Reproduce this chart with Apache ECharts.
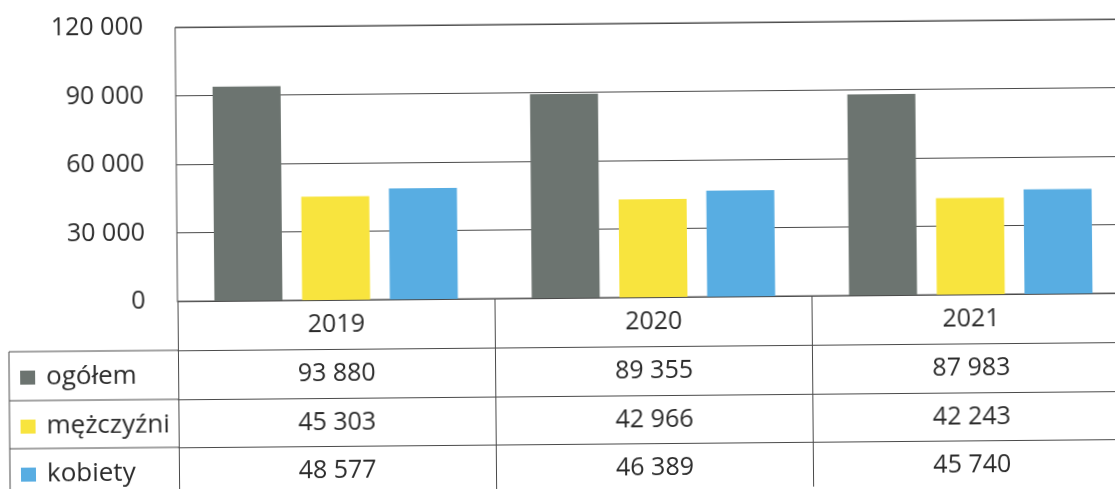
<!DOCTYPE html>
<html>
<head>
<meta charset="utf-8">
<script src="https://cdn.jsdelivr.net/npm/echarts@6/dist/echarts.min.js"></script>
<style>
  html, body { margin: 0; padding: 0; background: #fff; overflow: hidden; width: 1115px; height: 489px; }
  #chart { width: 1140px; height: 489px; transform: rotate(-0.5deg); transform-origin: 557px 244px; }
</style>
</head>
<body>
<div id="chart"></div>
<script>
var years = ['2019', '2020', '2021'];
var ogolem = [93880, 89355, 87983];
var mezczyzni = [45303, 42966, 42243];
var kobiety = [48577, 46389, 45740];
var seriesNames = ['ogółem', 'mężczyźni', 'kobiety'];
var yTicks = [0, 30000, 60000, 90000, 120000];

function fmt(n) {
  return String(n).replace(/\B(?=(\d{3})+(?!\d))/g, ' ');
}

var FONT = 'Open Sans';
var TXT = '#2b2b2b';
var LINE = '#4a4a4a';
var gridLeft = 177, gridTop = 24, gridH = 274, gridW = 952;
var baseY = gridTop + gridH;
var rowOff = [49, 98, 146];

var chart = echarts.init(document.getElementById('chart'));

function tableAxis(values, offset, tickLen) {
  return {
    type: 'category',
    position: 'bottom',
    offset: offset,
    data: values.map(fmt),
    axisLine: { show: true, lineStyle: { color: LINE, width: 1 } },
    axisTick: { show: true, length: tickLen, lineStyle: { color: LINE, width: 1 } },
    axisLabel: { fontFamily: FONT, fontSize: 25, lineHeight: 26, color: TXT, margin: 12 },
    splitLine: { show: false }
  };
}

// one legend per table row so each sits in its own cell
function rowLegend(i) {
  return {
    orient: 'vertical',
    left: 19,
    top: baseY + rowOff[i] + 12,
    padding: 0,
    itemWidth: 15,
    itemHeight: 14,
    icon: 'rect',
    data: [seriesNames[i]],
    textStyle: { fontFamily: FONT, fontSize: 26, lineHeight: 28, color: TXT, padding: [0, 0, 0, 6] }
  };
}

var option = {
  animation: false,
  backgroundColor: '#fff',
  grid: {
    left: gridLeft, top: gridTop, width: gridW, height: gridH,
    show: true, borderColor: LINE, borderWidth: 1
  },
  legend: [rowLegend(0), rowLegend(1), rowLegend(2)],
  xAxis: [
    {
      type: 'category',
      position: 'bottom',
      data: years,
      axisLine: { show: true, lineStyle: { color: LINE, width: 1 } },
      axisTick: { show: true, length: rowOff[0], lineStyle: { color: LINE, width: 1 } },
      axisLabel: { fontFamily: FONT, fontSize: 25, lineHeight: 26, color: TXT, margin: 12 }
    },
    tableAxis(ogolem, rowOff[0], rowOff[1] - rowOff[0]),
    tableAxis(mezczyzni, rowOff[1], rowOff[2] - rowOff[1]),
    tableAxis(kobiety, rowOff[2], 60)
  ],
  yAxis: {
    type: 'value',
    min: yTicks[0],
    max: yTicks[yTicks.length - 1],
    interval: 30000,
    axisLine: { show: false },
    axisTick: { show: false },
    axisLabel: {
      fontFamily: FONT, fontSize: 25, color: TXT, margin: 32,
      formatter: function (v) { return fmt(v); }
    },
    splitLine: { lineStyle: { color: LINE, width: 1 } }
  },
  series: [
    { name: seriesNames[0], type: 'bar', data: ogolem, barWidth: 68, barGap: '29%', itemStyle: { color: '#6c7470' } },
    { name: seriesNames[1], type: 'bar', data: mezczyzni, barWidth: 68, barGap: '29%', itemStyle: { color: '#f8e43e' } },
    { name: seriesNames[2], type: 'bar', data: kobiety, barWidth: 68, barGap: '29%', itemStyle: { color: '#58ade2' } }
  ],
  graphic: [
    // left column of the data table (legend cells)
    { type: 'line', shape: { x1: 8, y1: baseY + rowOff[0], x2: gridLeft, y2: baseY + rowOff[0] }, style: { stroke: LINE, lineWidth: 1 } },
    { type: 'line', shape: { x1: 8, y1: baseY + rowOff[1], x2: gridLeft, y2: baseY + rowOff[1] }, style: { stroke: LINE, lineWidth: 1 } },
    { type: 'line', shape: { x1: 8, y1: baseY + rowOff[2], x2: gridLeft, y2: baseY + rowOff[2] }, style: { stroke: LINE, lineWidth: 1 } },
    { type: 'line', shape: { x1: 8, y1: baseY + rowOff[0], x2: 8, y2: 500 }, style: { stroke: LINE, lineWidth: 1 } }
  ]
};

chart.setOption(option);
</script>
</body>
</html>
